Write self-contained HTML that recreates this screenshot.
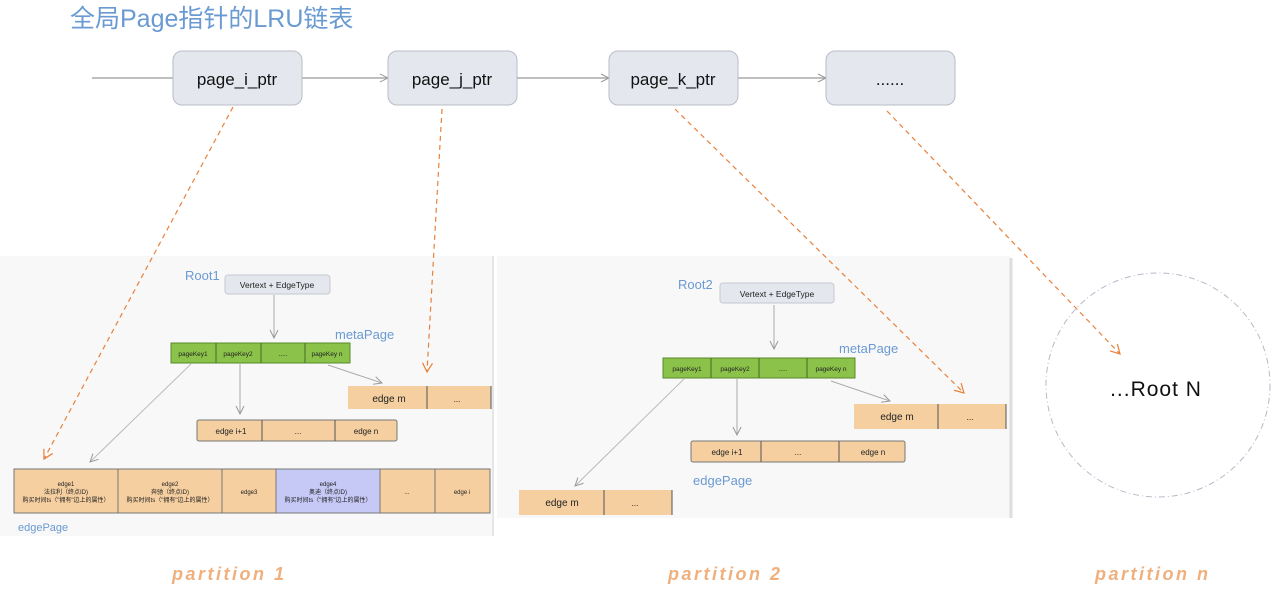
<!DOCTYPE html>
<html><head><meta charset="utf-8"><style>
html,body{margin:0;padding:0;background:#fff;}
svg{display:block}
text{font-family:"Liberation Sans","Noto Sans CJK SC",sans-serif;}
</style></head><body>
<svg width="1280" height="602" viewBox="0 0 1280 602" xmlns="http://www.w3.org/2000/svg">
<defs>
<marker id="ga" markerWidth="10" markerHeight="10" refX="9" refY="5" orient="auto" markerUnits="userSpaceOnUse"><path d="M1,1 L9,5 L1,9" fill="none" stroke="#999" stroke-width="1"/></marker>
<marker id="oa" markerWidth="12" markerHeight="12" refX="10" refY="6" orient="auto" markerUnits="userSpaceOnUse"><path d="M1,1 L10,6 L1,11" fill="none" stroke="#e8803a" stroke-width="1.2"/></marker>
</defs>
<rect x="0" y="256" width="493" height="280" fill="#f8f8f8"/>
<rect x="497" y="256" width="513" height="262" fill="#f8f8f8"/>
<line x1="493" y1="256" x2="493" y2="536" stroke="#e6e6e6" stroke-width="2"/>
<line x1="1011" y1="258" x2="1011" y2="518" stroke="#ddd" stroke-width="3"/>

<text x="70" y="27" font-size="25" fill="#6a9ad2">全局Page指针的LRU链表</text>

<g stroke="#999" stroke-width="1.2">
<line x1="92" y1="78" x2="173" y2="78"/>
<line x1="302" y1="78" x2="388" y2="78" marker-end="url(#ga)"/>
<line x1="517" y1="78" x2="609" y2="78" marker-end="url(#ga)"/>
<line x1="738" y1="78" x2="826" y2="78" marker-end="url(#ga)"/>
</g>
<g fill="#e4e7ed" stroke="#b9bdc6" stroke-width="1">
<rect x="173" y="51" width="129" height="54" rx="9"/>
<rect x="388" y="51" width="129" height="54" rx="9"/>
<rect x="609" y="51" width="129" height="54" rx="9"/>
<rect x="826" y="51" width="129" height="54" rx="9"/>
</g>
<g font-size="17" fill="#111" text-anchor="middle">
<text x="237" y="85">page_i_ptr</text>
<text x="452" y="85">page_j_ptr</text>
<text x="673" y="85">page_k_ptr</text>
<text x="890" y="85">......</text>
</g>

<!-- Partition 1 -->
<text x="185" y="280" font-size="13" fill="#6a9ad2">Root1</text>
<rect x="225" y="275" width="105" height="19" rx="3" fill="#e4e7ed" stroke="#c5c9d0"/>
<text x="277" y="288" font-size="8.5" text-anchor="middle" fill="#222">Vertext + EdgeType</text>
<line x1="274" y1="295" x2="274" y2="338" stroke="#aaa" marker-end="url(#ga)"/>
<text x="335" y="339" font-size="13" fill="#6a9ad2">metaPage</text>
<rect x="171" y="343" width="179" height="20" fill="#8bc34a" stroke="#5a8a2a"/>
<g stroke="#4a6a2a"><line x1="216" y1="343" x2="216" y2="363"/><line x1="261" y1="343" x2="261" y2="363"/><line x1="305" y1="343" x2="305" y2="363"/></g>
<g font-size="6.5" text-anchor="middle" fill="#222"><text x="193" y="356">pageKey1</text><text x="238" y="356">pageKey2</text><text x="283" y="356">.....</text><text x="327" y="356">pageKey n</text></g>
<line x1="328" y1="365" x2="382" y2="383" stroke="#aaa" marker-end="url(#ga)"/>
<line x1="240" y1="364" x2="240" y2="414" stroke="#aaa" marker-end="url(#ga)"/>
<line x1="191" y1="364" x2="90" y2="462" stroke="#bbb" marker-end="url(#ga)"/>
<rect x="348" y="386" width="143" height="23" fill="#f5cfa0"/>
<line x1="427" y1="386" x2="427" y2="409" stroke="#555"/><line x1="491" y1="386" x2="491" y2="409" stroke="#555"/>
<text x="389" y="402" font-size="10" text-anchor="middle" fill="#222">edge m</text><text x="457" y="402" font-size="8" text-anchor="middle">...</text>
<rect x="197" y="420" width="200" height="21" fill="#f5cfa0" stroke="#777" rx="2"/>
<line x1="262" y1="420" x2="262" y2="441" stroke="#555"/><line x1="335" y1="420" x2="335" y2="441" stroke="#555"/>
<g font-size="8" text-anchor="middle" fill="#222"><text x="231" y="434">edge i+1</text><text x="298" y="434">...</text><text x="366" y="434">edge n</text></g>
<rect x="14" y="469" width="476" height="44" fill="#f5cfa0" stroke="#777"/>
<rect x="276" y="469" width="104" height="44" fill="#c6c9f5" stroke="#777"/>
<g stroke="#777"><line x1="118" y1="469" x2="118" y2="513"/><line x1="222" y1="469" x2="222" y2="513"/><line x1="435" y1="469" x2="435" y2="513"/></g>
<g font-size="6" text-anchor="middle" fill="#222">
<text x="66" y="486">edge1</text><text x="66" y="494">法拉利（终点ID)</text><text x="66" y="502">购买时间ts（"拥有"边上的属性）</text>
<text x="170" y="486">edge2</text><text x="170" y="494">奔驰（终点ID)</text><text x="170" y="502">购买时间ts（"拥有"边上的属性）</text>
<text x="249" y="494">edge3</text>
<text x="328" y="486">edge4</text><text x="328" y="494">奥迪（终点ID)</text><text x="328" y="502">购买时间ts（"拥有"边上的属性）</text>
<text x="407" y="494">...</text><text x="462" y="494">edge i</text>
</g>
<text x="18" y="531" font-size="11" fill="#6a9ad2">edgePage</text>

<!-- Partition 2 -->
<text x="678" y="289" font-size="13" fill="#6a9ad2">Root2</text>
<rect x="720" y="283" width="114" height="20" rx="3" fill="#e4e7ed" stroke="#c5c9d0"/>
<text x="777" y="297" font-size="8.5" text-anchor="middle" fill="#222">Vertext + EdgeType</text>
<line x1="774" y1="305" x2="774" y2="349" stroke="#aaa" marker-end="url(#ga)"/>
<text x="839" y="353" font-size="13" fill="#6a9ad2">metaPage</text>
<rect x="663" y="358" width="192" height="20" fill="#8bc34a" stroke="#5a8a2a"/>
<g stroke="#4a6a2a"><line x1="711" y1="358" x2="711" y2="378"/><line x1="759" y1="358" x2="759" y2="378"/><line x1="807" y1="358" x2="807" y2="378"/></g>
<g font-size="6.5" text-anchor="middle" fill="#222"><text x="687" y="371">pageKey1</text><text x="735" y="371">pageKey2</text><text x="783" y="371">.....</text><text x="831" y="371">pageKey n</text></g>
<line x1="831" y1="381" x2="890" y2="401" stroke="#aaa" marker-end="url(#ga)"/>
<line x1="737" y1="379" x2="737" y2="435" stroke="#aaa" marker-end="url(#ga)"/>
<line x1="684" y1="379" x2="575" y2="486" stroke="#bbb" marker-end="url(#ga)"/>
<rect x="854" y="404" width="152" height="25" fill="#f5cfa0"/>
<line x1="938" y1="404" x2="938" y2="429" stroke="#555"/><line x1="1006" y1="404" x2="1006" y2="429" stroke="#555"/>
<text x="897" y="420" font-size="10" text-anchor="middle" fill="#222">edge m</text><text x="970" y="420" font-size="8" text-anchor="middle">...</text>
<rect x="691" y="441" width="214" height="21" fill="#f5cfa0" stroke="#777" rx="2"/>
<line x1="761" y1="441" x2="761" y2="462" stroke="#555"/><line x1="839" y1="441" x2="839" y2="462" stroke="#555"/>
<g font-size="8" text-anchor="middle" fill="#222"><text x="727" y="455">edge i+1</text><text x="798" y="455">...</text><text x="873" y="455">edge n</text></g>
<text x="693" y="485" font-size="13" fill="#6a9ad2">edgePage</text>
<rect x="519" y="490" width="153" height="25" fill="#f5cfa0"/>
<line x1="604" y1="490" x2="604" y2="515" stroke="#555"/><line x1="672" y1="490" x2="672" y2="515" stroke="#555"/>
<text x="562" y="506" font-size="10" text-anchor="middle" fill="#222">edge m</text><text x="635" y="506" font-size="8" text-anchor="middle">...</text>

<!-- Root N -->
<circle cx="1158" cy="385" r="112" fill="none" stroke="#b5bac8" stroke-width="1" stroke-dasharray="6,3,1,3"/>
<text x="1156" y="396" font-size="21" text-anchor="middle" fill="#111" letter-spacing="1">...Root N</text>

<!-- orange dashed -->
<g stroke="#e8803a" stroke-width="1.2" stroke-dasharray="5,4" fill="none">
<line x1="233" y1="107" x2="44" y2="459" marker-end="url(#oa)"/>
<line x1="442" y1="109" x2="427" y2="372" marker-end="url(#oa)"/>
<line x1="675" y1="109" x2="964" y2="393" marker-end="url(#oa)"/>
<line x1="887" y1="111" x2="1120" y2="354" marker-end="url(#oa)"/>
</g>

<g font-size="18" font-style="italic" font-weight="bold" fill="#efb07e" letter-spacing="2.5">
<text x="172" y="580">partition 1</text>
<text x="668" y="580">partition 2</text>
<text x="1095" y="580">partition n</text>
</g>
</svg>
</body></html>
